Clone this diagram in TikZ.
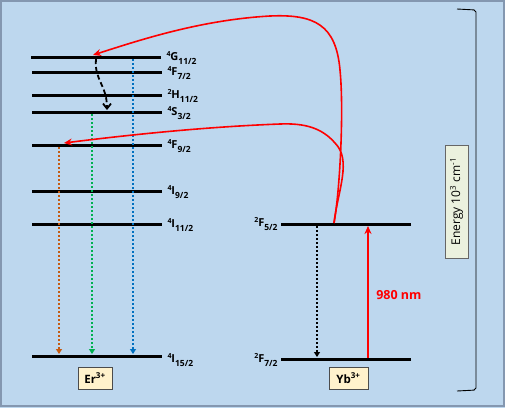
\documentclass[tikz,border=0pt]{standalone}
\usepackage{fontspec}
\setmainfont{Open Sans}
\usetikzlibrary{arrows.meta}
\definecolor{bgblue}{HTML}{BDD7EE}
\definecolor{frameblue}{HTML}{8497B0}
\definecolor{boxyellow}{HTML}{FFF2CC}
\definecolor{boxgreen}{HTML}{EBF1DE}
\definecolor{eorange}{HTML}{C55A11}
\definecolor{egreen}{HTML}{00B050}
\definecolor{eblue}{HTML}{0070C0}
\definecolor{ered}{HTML}{FF0000}
\newcommand\lvlab[3]{{\fontsize{7}{7}\selectfont\raisebox{4pt}{#1}}#2{\fontsize{8.5}{9}\selectfont\raisebox{-3.2pt}{#3}}}
\tikzset{
  level/.style={line width=3pt},
  lbl/.style={font=\fontsize{11}{12}\selectfont\bfseries, inner sep=1pt},
  emit/.style={line width=2pt, dotted, -{Triangle[length=5pt,width=6pt]}},
  transfer/.style={ered, line width=1.6pt, -{Stealth[length=8pt,width=7pt]}},
  ionbox/.style={draw=black!70, fill=boxyellow, line width=0.6pt, font=\fontsize{11.5}{12}\selectfont\bfseries, minimum width=34pt, minimum height=22pt, inner sep=1pt}
}
\begin{document}
\begin{tikzpicture}[x=1pt,y=-1pt]
\useasboundingbox (0,0) rectangle (505,408);
\fill[bgblue] (0,0) rectangle (505,408);
\draw[frameblue, line width=1.5pt] (1,1) rectangle (504,406);
% Er levels
\draw[level] (31,57) -- (161,57) node[right, lbl, yshift=-1pt, xshift=3pt] (g11) {\lvlab{4}{G}{11/2}};
\draw[level] (32,72) -- (162,72) node[right, lbl, yshift=-1pt, xshift=3pt] (f72) {\lvlab{4}{F}{7/2}};
\draw[level] (32,95) -- (162,95) node[right, lbl, yshift=-1pt, xshift=3pt] (h112) {\lvlab{2}{H}{11/2}};
\draw[level] (32,112) -- (162,112) node[right, lbl, yshift=-1pt, xshift=3pt] (s32) {\lvlab{4}{S}{3/2}};
\draw[level] (32,145) -- (162,145) node[right, lbl, yshift=-1pt, xshift=3pt] (f92) {\lvlab{4}{F}{9/2}};
\draw[level] (32,191) -- (162,191) node[right, lbl, yshift=-1pt, xshift=3pt] (i92) {\lvlab{4}{I}{9/2}};
\draw[level] (32,224) -- (162,224) node[right, lbl, yshift=-1pt, xshift=3pt] (i112) {\lvlab{4}{I}{11/2}};
\draw[level] (32,356) -- (162,356) node[right, lbl, yshift=-4pt, xshift=3pt] (i152) {\lvlab{4}{I}{15/2}};
% Yb levels
\draw[level] (411,224) -- (281,224) node[left, lbl, yshift=0pt, xshift=-1pt] (f52) {\lvlab{2}{F}{5/2}};
\draw[level] (411,359) -- (281,359) node[left, lbl, yshift=-1pt, xshift=-1pt] (f72y) {\lvlab{2}{F}{7/2}};
% coordinates
\coordinate (oTop) at (59,147);
\coordinate (oBot) at (59,354);
\coordinate (gTop) at (92,114);
\coordinate (gBot) at (92,354);
\coordinate (bTop) at (133,59);
\coordinate (bBot) at (133,354);
\coordinate (nrTop) at (96,59);
\coordinate (nrBot) at (107,110);
\coordinate (ybTop) at (317,226);
\coordinate (ybBot) at (317,357);
\coordinate (exBot) at (368,358);
\coordinate (exTop) at (368,226);
\coordinate (src) at (334,223);
\coordinate (tipG) at (93,55);
\coordinate (tipF) at (64,143);
% emissions
\draw[emit, eorange] (oTop) -- (oBot);
\draw[emit, egreen] (gTop) -- (gBot);
\draw[emit, eblue] (bTop) -- (bBot);
\draw[line width=1.8pt, dash pattern=on 5pt off 3pt, -{Straight Barb[length=5pt,width=8pt]}] (nrTop) .. controls (94,80) and (107,85) .. (nrBot);
\draw[emit, black] (ybTop) -- (ybBot);
\draw[ered, line width=2pt, -{Stealth[length=8pt,width=7pt]}] (exBot) -- (exTop) node[pos=0.48, right=4pt, font=\fontsize{12.5}{14}\selectfont\bfseries] (nm) {980 nm};
% energy transfer
\draw[transfer] (src) .. controls (340,190) and (344,110) .. (340,70)
  .. controls (336,25) and (315,14) .. (270,16)
  .. controls (200,20) and (140,40) .. (tipG);
\draw[transfer] (src) .. controls (338,190) and (352,160) .. (335,143)
  .. controls (322,128) and (305,123) .. (280,124)
  .. controls (200,127) and (120,136) .. (tipF);
% boxes
\node[ionbox] (er) at (95,378) {Er\textsuperscript{3+}};
\node[ionbox, minimum width=39pt] (yb) at (348.5,378) {Yb\textsuperscript{3+}};
\node[draw=black!60, fill=boxgreen, line width=0.6pt, rotate=90, minimum width=113pt, minimum height=23pt, inner sep=1pt, font=\fontsize{12}{14}\selectfont] (en) at (456.5,201.5) {Energy 10\textsuperscript{3} cm\textsuperscript{-1}};
% bracket
\coordinate (brT) at (457,9);
\coordinate (brB) at (457,391);
\draw[line width=0.9pt, rounded corners=2pt] (brT) -- (476,10) -- (476,390) -- (brB);
\end{tikzpicture}
\end{document}
